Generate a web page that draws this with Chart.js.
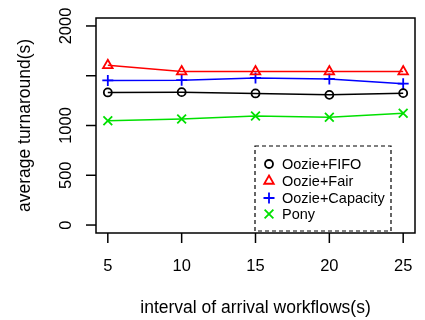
<!DOCTYPE html>
<html>
<head>
<meta charset="utf-8">
<script src="https://cdn.jsdelivr.net/npm/chart.js@4/dist/chart.umd.min.js"></script>
<style>
  body { margin: 0; background: #fff; }
</style>
</head>
<body>
<canvas id="myChart" width="425" height="320"></canvas>
<script>
// data
var intervals = [5, 10, 15, 20, 25];
var fifoData = [1332, 1335, 1322, 1308, 1325];
var fairData = [1605, 1542, 1542, 1542, 1542];
var capacityData = [1453, 1455, 1477, 1467, 1420];
var ponyData = [1048, 1065, 1095, 1082, 1123];

var seriesNames = ['Oozie+FIFO', 'Oozie+Fair', 'Oozie+Capacity', 'Pony'];
var yTicks = [0, 500, 1000, 1500, 2000];
var yTickLabels = ['0', '500', '1000', '', '2000'];
var xTicks = [5, 10, 15, 20, 25];

var FONT = '"Liberation Sans", Arial, sans-serif';

function points(arr) {
    return intervals.map(function (x, i) { return { x: x, y: arr[i] }; });
}

var styles = [
    { color: '#000000', pointStyle: 'circle', radius: 4 },
    { color: '#ff0000', pointStyle: 'triangle', radius: 5.5 },
    { color: '#0000ff', pointStyle: 'cross', radius: 5.5 },
    { color: '#00e000', pointStyle: 'crossRot', radius: 6.2 }
];

var allData = [fifoData, fairData, capacityData, ponyData];

var datasets = allData.map(function (d, i) {
    return {
        label: seriesNames[i],
        data: points(d),
        borderColor: styles[i].color,
        backgroundColor: 'rgba(0,0,0,0)',
        borderWidth: 1.5,
        pointStyle: styles[i].pointStyle,
        pointRadius: styles[i].radius,
        pointBorderWidth: 1.8,
        pointBorderColor: styles[i].color,
        pointBackgroundColor: 'rgba(0,0,0,0)',
        tension: 0
    };
});

var axesPlugin = {
    id: 'rAxes',
    afterDraw: function (chart) {
        var c = chart.ctx;
        var a = chart.chartArea;
        var xs = chart.scales.x, ys = chart.scales.y;
        c.save();
        c.strokeStyle = '#000';
        c.fillStyle = '#000';
        c.lineWidth = 1.5;
        c.strokeRect(a.left, a.top, a.right - a.left, a.bottom - a.top);

        // y axis
        c.font = '16.5px ' + FONT;
        yTicks.forEach(function (v, i) {
            var py = ys.getPixelForValue(v);
            c.beginPath();
            c.moveTo(a.left - 10, py);
            c.lineTo(a.left, py);
            c.stroke();
            if (yTickLabels[i]) {
                c.save();
                c.translate(66, py);
                c.rotate(-Math.PI / 2);
                c.textAlign = 'center';
                c.textBaseline = 'middle';
                c.fillText(yTickLabels[i], 0, 0);
                c.restore();
            }
        });

        // x axis
        xTicks.forEach(function (v) {
            var px = xs.getPixelForValue(v);
            c.beginPath();
            c.moveTo(px, a.bottom);
            c.lineTo(px, a.bottom + 10);
            c.stroke();
            c.textAlign = 'center';
            c.textBaseline = 'middle';
            c.fillText(String(v), px, 266);
        });

        // titles
        c.font = '17.5px ' + FONT;
        c.textAlign = 'center';
        c.textBaseline = 'middle';
        c.fillText('interval of arrival workflows(s)', (a.left + a.right) / 2, 308);
        c.save();
        c.translate(25, (a.top + a.bottom) / 2);
        c.rotate(-Math.PI / 2);
        c.fillText('average turnaround(s)', 0, 0);
        c.restore();

        // legend
        c.strokeStyle = '#000';
        c.lineWidth = 1.2;
        c.setLineDash([4, 3]);
        c.strokeRect(255, 146, 136, 85);
        c.setLineDash([]);
        c.font = '14.5px ' + FONT;
        c.textAlign = 'left';
        var rowY = [164, 181, 198, 214];
        seriesNames.forEach(function (name, i) {
            c.strokeStyle = styles[i].color;
            c.fillStyle = 'rgba(0,0,0,0)';
            c.lineWidth = 1.8;
            Chart.helpers.drawPoint(c, {
                pointStyle: styles[i].pointStyle,
                radius: styles[i].radius,
                rotation: 0,
                borderWidth: 1.8
            }, 269, rowY[i]);
            c.fillStyle = '#000';
            c.fillText(name, 282, rowY[i] + 1);
        });
        c.restore();
    }
};

var ctx = document.getElementById('myChart').getContext('2d');
var myChart = new Chart(ctx, {
    type: 'line',
    data: { datasets: datasets },
    options: {
        responsive: false,
        animation: false,
        layout: { padding: { left: 96, top: 18, right: 10, bottom: 87 } },
        plugins: {
            legend: { display: false },
            tooltip: { enabled: false }
        },
        scales: {
            x: { type: 'linear', min: 4.2, max: 25.8, display: false },
            y: { min: -80, max: 2080, display: false }
        }
    },
    plugins: [axesPlugin]
});
</script>
</body>
</html>
